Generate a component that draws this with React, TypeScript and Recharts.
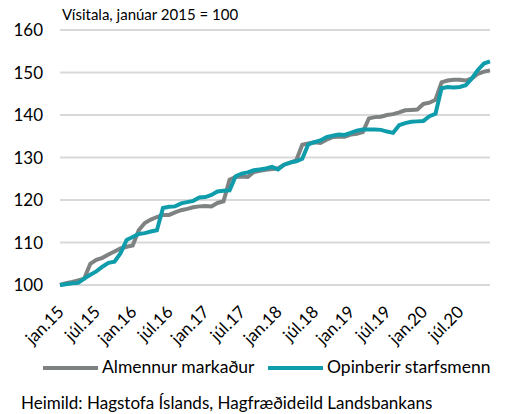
import { LineChart, Line, XAxis, YAxis, CartesianGrid } from "recharts";

// Launavísitala eftir mörkuðum, jan. 2015 = 100
const MONTHS = ["jan", "feb", "mar", "apr", "maí", "jún", "júl", "ágú", "sep", "okt", "nóv", "des"];
const YEARS = ["15", "16", "17", "18", "19", "20"];
const CATEGORIES = YEARS.flatMap((y) => MONTHS.map((m) => `${m}.${y}`));

const ALMENNUR = [
  100.0, 100.4, 100.7, 101.1, 101.5, 105.0, 105.9, 106.4, 107.2, 107.9, 108.6, 109.0,
  109.3, 112.9, 114.6, 115.4, 116.0, 116.5, 116.5, 117.1, 117.6, 117.9, 118.3, 118.5,
  118.6, 118.5, 119.3, 119.7, 124.8, 125.4, 125.5, 125.4, 126.6, 126.9, 127.1, 127.3,
  127.4, 128.3, 128.8, 129.3, 133.0, 133.3, 133.6, 133.4, 134.2, 134.8, 134.9, 134.9,
  135.4, 135.6, 136.0, 139.2, 139.5, 139.6, 140.0, 140.2, 140.6, 141.1, 141.2, 141.3,
  142.6, 142.9, 143.6, 147.7, 148.1, 148.3, 148.3, 148.1, 148.6, 149.7, 150.2, 150.5,
];

const OPINBERIR = [
  100.0, 100.2, 100.4, 100.5, 101.5, 102.4, 103.2, 104.3, 105.2, 105.5, 107.5, 110.6,
  111.3, 112.0, 112.2, 112.6, 112.9, 118.1, 118.4, 118.5, 119.2, 119.5, 119.8, 120.6,
  120.7, 121.2, 122.0, 122.2, 122.3, 125.6, 126.2, 126.5, 127.0, 127.2, 127.4, 127.8,
  127.2, 128.3, 128.8, 129.1, 129.7, 133.1, 133.6, 134.0, 134.8, 135.1, 135.4, 135.3,
  135.8, 136.3, 136.6, 136.6, 136.6, 136.5, 136.1, 135.8, 137.6, 138.1, 138.4, 138.5,
  138.6, 139.7, 140.3, 146.3, 146.6, 146.5, 146.6, 147.0, 148.6, 150.6, 152.1, 152.6,
];

const Y_TICKS = [100, 110, 120, 130, 140, 150, 160];

const GRAY = "#7f8282";
const TEAL = "#0f9cab";
const FONT = "Lato, 'Open Sans', sans-serif";

const data = CATEGORIES.map((name, i) => ({
  name,
  almennur: ALMENNUR[i],
  opinberir: OPINBERIR[i],
}));

const RotatedTick = (props: any) => {
  const { x, y, payload } = props;
  const ax = x + 5;
  const ay = y + 26;
  return (
    <text
      x={ax}
      y={ay}
      transform={`rotate(-45, ${ax}, ${ay})`}
      textAnchor="end"
      fontSize={17}
      fontFamily={FONT}
      fill="#000"
    >
      {payload.value}
    </text>
  );
};

export default function App() {
  return (
    <div
      style={{
        position: "absolute",
        left: 0,
        top: 0,
        width: 505,
        height: 414,
        background: "#fff",
        fontFamily: FONT,
        color: "#000",
      }}
    >
      <div style={{ position: "absolute", left: 62, top: 5, fontSize: 15 }}>
        Vísitala, janúar 2015 = 100
      </div>
      <LineChart
        width={505}
        height={414}
        data={data}
        margin={{ top: 30, right: 15, bottom: 69, left: 0 }}
      >
        <CartesianGrid vertical={false} stroke="#d9d9d9" strokeWidth={2} />
        <XAxis
          dataKey="name"
          interval={5}
          axisLine={false}
          tickLine={false}
          tickSize={0}
          height={60}
          tick={<RotatedTick />}
        />
        <YAxis
          domain={[100, 160]}
          ticks={Y_TICKS}
          width={60}
          axisLine={false}
          tickLine={false}
          tickSize={0}
          tickMargin={17}
          tick={{ fontSize: 17, fill: "#000", fontFamily: FONT }}
        />
        <Line
          type="linear"
          dataKey="almennur"
          stroke={GRAY}
          strokeWidth={4}
          dot={false}
          isAnimationActive={false}
        />
        <Line
          type="linear"
          dataKey="opinberir"
          stroke={TEAL}
          strokeWidth={4}
          dot={false}
          isAnimationActive={false}
        />
      </LineChart>
      <div style={{ position: "absolute", left: 43, top: 366, width: 55, height: 4, background: GRAY }} />
      <div style={{ position: "absolute", left: 102, top: 356, fontSize: 17.5 }}>Almennur markaður</div>
      <div style={{ position: "absolute", left: 268, top: 366, width: 55, height: 4, background: TEAL }} />
      <div style={{ position: "absolute", left: 327, top: 356, fontSize: 17.5 }}>Opinberir starfsmenn</div>
      <div style={{ position: "absolute", left: 21, top: 392, fontSize: 17 }}>
        Heimild: Hagstofa Íslands, Hagfræðideild Landsbankans
      </div>
    </div>
  );
}
